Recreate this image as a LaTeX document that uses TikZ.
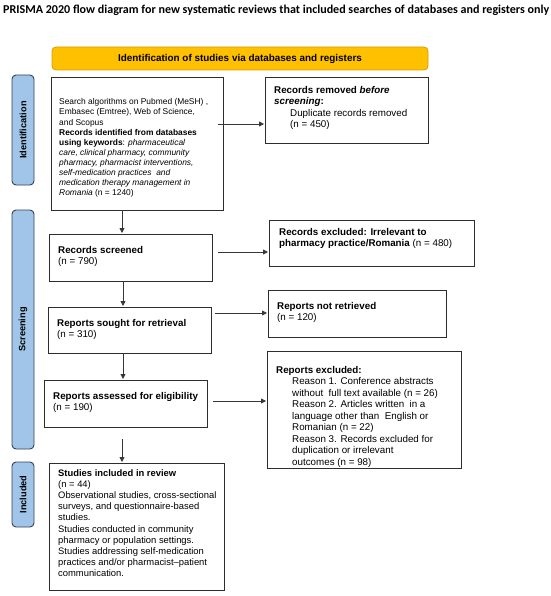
\documentclass[tikz,border=0pt]{standalone}
\usepackage{fontspec}
\setmainfont{Liberation Sans}
\newfontfamily\titlefont{Carlito}
\usetikzlibrary{arrows.meta}
\definecolor{bannerfill}{RGB}{255,192,0}
\definecolor{bannerline}{RGB}{214,160,0}
\definecolor{sidefill}{RGB}{160,197,232}
\definecolor{sideline}{RGB}{55,65,85}
\definecolor{boxline}{RGB}{45,45,45}
\definecolor{arrline}{RGB}{55,55,55}
\begin{document}
\begin{tikzpicture}[x=1pt,y=-1pt,
  box/.style={draw=boxline, line width=0.9pt, anchor=north west, inner sep=0pt, rectangle},
  txt/.style={anchor=north west, inner sep=0pt, align=left, font=\fontsize{9.8}{11.5}\selectfont},
  smalltxt/.style={txt, font=\fontsize{8.4}{10.1}\selectfont},
  midtxt/.style={txt, font=\fontsize{9.4}{11.1}\selectfont},
  sidelab/.style={draw=sideline, fill=sidefill, line width=0.9pt, rounded corners=4pt, rotate=90, inner sep=0pt, minimum height=22pt, font=\bfseries\fontsize{9.2}{11}\selectfont},
  bannerbox/.style={draw=bannerline, fill=bannerfill, line width=0.8pt, rounded corners=4pt, inner sep=0pt, font=\bfseries\fontsize{9.9}{11}\selectfont},
  arr/.style={draw=arrline, line width=0.8pt, -{Triangle[length=5pt,width=5pt]}, shorten >=1pt}
]
\useasboundingbox (0,0) rectangle (550,596);

% title
\node[anchor=west, inner sep=0pt, font=\titlefont\bfseries\fontsize{12.05}{13.5}\selectfont] (title) at (3,10.6)
  {PRISMA 2020 flow diagram for new systematic reviews that included searches of databases and registers only};

% banner
\node[bannerbox, minimum width=376pt, minimum height=23pt] (banner) at (240,58.5)
  {Identification of studies via databases and registers};

% side labels
\node[sidelab, minimum width=110pt] (idlab) at (23,130) {Identification};
\node[sidelab, minimum width=239pt] (scrlab) at (23,329.5) {Screening};
\node[sidelab, minimum width=65pt] (inclab) at (23,494.5) {Included};

% boxes
\node[box, minimum width=172pt, minimum height=133pt] (src) at (51,77) {};
\node[box, minimum width=163pt, minimum height=66pt] (removed) at (265,77) {};
\node[box, minimum width=163pt, minimum height=47pt] (screened) at (49,234) {};
\node[box, minimum width=205pt, minimum height=46pt] (recexcl) at (269,220) {};
\node[box, minimum width=163pt, minimum height=46pt] (sought) at (48,307) {};
\node[box, minimum width=178pt, minimum height=47pt] (notret) at (268,290) {};
\node[box, minimum width=163pt, minimum height=47pt] (assessed) at (44,380) {};
\node[box, minimum width=194pt, minimum height=117pt] (repexcl) at (267,351) {};
\node[box, minimum width=175pt, minimum height=127pt] (incl) at (49,463) {};

% texts
\node[smalltxt] (srcT) at (59,98.6) {Search algorithms on Pubmed (MeSH) ,\\
Embasec (Emtree), Web of Science,\\
and Scopus\\
\textbf{Records identified from databases}\\
\textbf{using keywords}: \textit{pharmaceutical}\\
\textit{care, clinical pharmacy, community}\\
\textit{pharmacy, pharmacist interventions,}\\
\textit{self-medication practices\ \ and}\\
\textit{medication therapy management in}\\
\textit{Romania} (n = 1240)};

\node[txt] (removedT) at (274,86) {\textbf{Records removed \textit{before}}\\
\textbf{\textit{screening}:}\\
\hspace*{16pt}Duplicate records removed\\
\hspace*{16pt}(n = 450)};

\node[txt] (recexclT) at (279,228) {\textbf{Records excluded: Irrelevant to}\\
\textbf{pharmacy practice/Romania} (n = 480)};

\node[txt] (screenedT) at (58,246) {\textbf{Records screened}\\(n = 790)};
\node[txt] (notretT) at (277,302) {\textbf{Reports not retrieved}\\(n = 120)};
\node[txt] (soughtT) at (57,319) {\textbf{Reports sought for retrieval}\\(n = 310)};
\node[txt] (assessedT) at (53,392) {\textbf{Reports assessed for eligibility}\\(n = 190)};

\node[txt] (repexclT) at (276,366) {\textbf{Reports excluded:}\\
\hspace*{16pt}Reason 1. Conference abstracts\\
\hspace*{16pt}without\ \ full text available (n = 26)\\
\hspace*{16pt}Reason 2. Articles written\ \ in a\\
\hspace*{16pt}language other than\ \ English or\\
\hspace*{16pt}Romanian (n = 22)\\
\hspace*{16pt}Reason 3. Records excluded for\\
\hspace*{16pt}duplication or irrelevant\\
\hspace*{16pt}outcomes (n = 98)};

\node[midtxt] (inclT) at (58,469.5) {\textbf{Studies included in review}\\
(n = 44)\\
Observational studies, cross-sectional\\
surveys, and questionnaire-based\\
studies.\\
Studies conducted in community\\
pharmacy or population settings.\\
Studies addressing self-medication\\
practices and/or pharmacist–patient\\
communication.};

% connectors
\coordinate (h1) at (218,124);
\coordinate (v1) at (122,210);
\coordinate (h2) at (218,252);
\coordinate (v2) at (123,281);
\coordinate (h3) at (215,313);
\coordinate (v3) at (123,353);
\coordinate (h4) at (213,401);
\coordinate (v4) at (122,439);

\draw[arr] (h1) -- (h1 -| removed.west);
\draw[arr] (v1) -- (v1 |- screened.north);
\draw[arr] (h2) -- (h2 -| recexcl.west);
\draw[arr] (v2) -- (v2 |- sought.north);
\draw[arr] (h3) -- (h3 -| notret.west);
\draw[arr] (v3) -- (v3 |- assessed.north);
\draw[arr] (h4) -- (h4 -| repexcl.west);
\draw[arr] (v4) -- (v4 |- incl.north);
\end{tikzpicture}
\end{document}
